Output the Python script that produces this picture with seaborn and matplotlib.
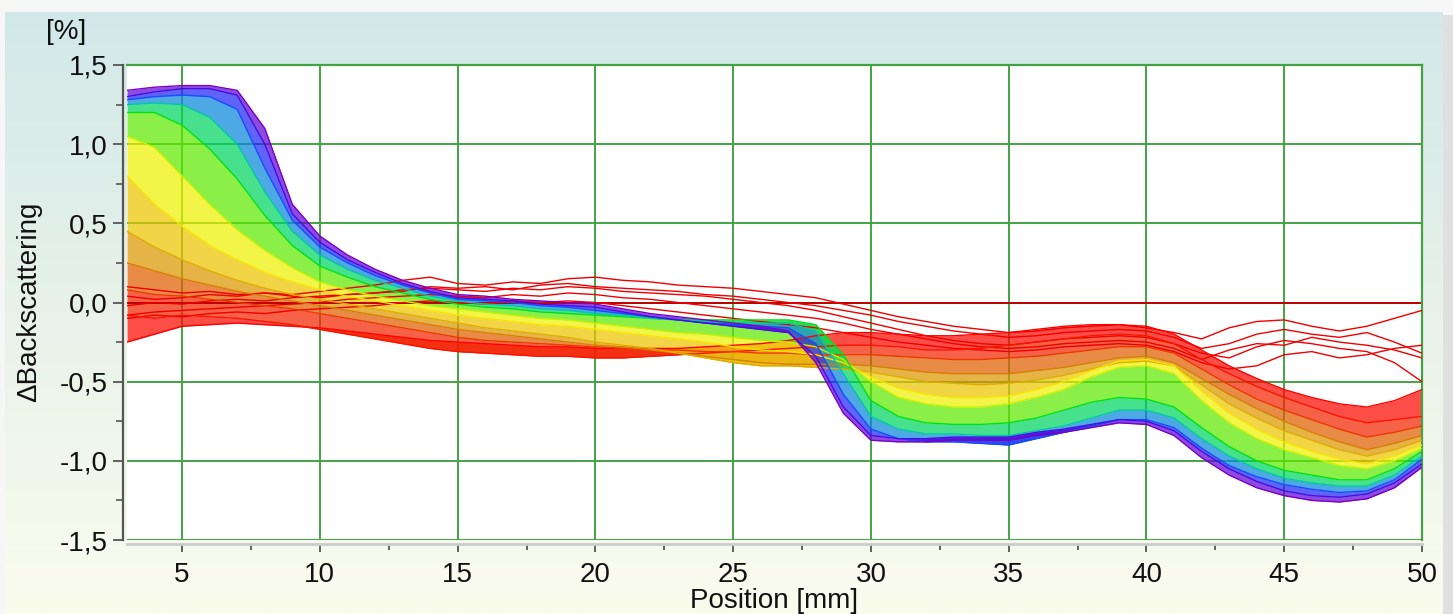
import numpy as np
import pandas as pd
import matplotlib
matplotlib.use("Agg")
import matplotlib.pyplot as plt
import seaborn as sns
from matplotlib.colors import LinearSegmentedColormap
from matplotlib.patches import Rectangle
from matplotlib.ticker import MultipleLocator, FuncFormatter

# positions along the cell [mm]
POS = list(range(3, 51))

# delta backscattering [%] per scan, in time order
ZERO = [0.0] * 48

RS1 = [0.04, 0.02, 0.03, 0.05, 0.04, 0.06, 0.05, 0.07, 0.09, 0.11, 0.14, 0.16,
       0.12, 0.11, 0.13, 0.12, 0.15, 0.16, 0.14, 0.13, 0.11, 0.10, 0.09, 0.07,
       0.05, 0.03, -0.01, -0.05, -0.09, -0.12, -0.15, -0.17, -0.19, -0.18, -0.16, -0.15,
       -0.14, -0.16, -0.19, -0.23, -0.16, -0.12, -0.11, -0.15, -0.18, -0.15, -0.10, -0.05]
RS2 = [-0.02, 0.00, -0.01, 0.01, 0.02, 0.01, 0.03, 0.04, 0.05, 0.06, 0.08, 0.09,
       0.08, 0.07, 0.09, 0.08, 0.10, 0.09, 0.07, 0.06, 0.05, 0.04, 0.02, 0.00,
       -0.02, -0.05, -0.09, -0.13, -0.17, -0.21, -0.24, -0.26, -0.27, -0.25, -0.23, -0.22,
       -0.21, -0.22, -0.26, -0.32, -0.35, -0.28, -0.24, -0.26, -0.29, -0.31, -0.38, -0.50]
RS3 = [-0.08, -0.06, -0.05, -0.04, -0.03, -0.02, -0.01, 0.00, 0.02, 0.03, 0.04, 0.05,
       0.04, 0.03, 0.05, 0.04, 0.06, 0.05, 0.03, 0.02, 0.00, -0.02, -0.04, -0.06,
       -0.08, -0.10, -0.13, -0.17, -0.20, -0.23, -0.26, -0.28, -0.29, -0.28, -0.26, -0.25,
       -0.24, -0.25, -0.29, -0.36, -0.30, -0.26, -0.27, -0.22, -0.25, -0.27, -0.30, -0.35]
RS4 = [-0.10, -0.08, -0.09, -0.07, -0.06, -0.07, -0.05, -0.04, -0.03, -0.02, 0.00, 0.01,
       0.00, -0.01, 0.01, 0.00, 0.01, 0.00, -0.02, -0.04, -0.06, -0.08, -0.10, -0.12,
       -0.14, -0.16, -0.19, -0.22, -0.25, -0.27, -0.29, -0.30, -0.31, -0.30, -0.28, -0.27,
       -0.26, -0.27, -0.31, -0.38, -0.42, -0.40, -0.33, -0.31, -0.35, -0.33, -0.29, -0.27]
RS5 = [0.10, 0.08, 0.06, 0.07, 0.05, 0.06, 0.04, 0.03, 0.05, 0.06, 0.07, 0.10,
       0.09, 0.10, 0.08, 0.11, 0.12, 0.10, 0.09, 0.08, 0.07, 0.05, 0.04, 0.02,
       0.00, -0.02, -0.05, -0.08, -0.12, -0.15, -0.18, -0.20, -0.22, -0.21, -0.19, -0.18,
       -0.17, -0.18, -0.22, -0.29, -0.26, -0.20, -0.17, -0.20, -0.22, -0.19, -0.25, -0.32]
R1 = [-0.25, -0.20, -0.15, -0.14, -0.13, -0.14, -0.15, -0.16, -0.18, -0.20, -0.22, -0.24,
      -0.25, -0.26, -0.27, -0.28, -0.28, -0.29, -0.29, -0.29, -0.29, -0.28, -0.27, -0.26,
      -0.24, -0.21, -0.19, -0.19, -0.20, -0.21, -0.21, -0.20, -0.19, -0.17, -0.15, -0.14,
      -0.14, -0.15, -0.20, -0.30, -0.40, -0.48, -0.55, -0.60, -0.64, -0.66, -0.62, -0.55]
R2 = [-0.08, -0.10, -0.08, -0.09, -0.10, -0.12, -0.14, -0.17, -0.20, -0.23, -0.26, -0.29,
      -0.31, -0.32, -0.33, -0.34, -0.34, -0.35, -0.35, -0.34, -0.33, -0.32, -0.31, -0.30,
      -0.29, -0.28, -0.27, -0.27, -0.28, -0.30, -0.30, -0.29, -0.27, -0.25, -0.23, -0.21,
      -0.20, -0.21, -0.26, -0.36, -0.45, -0.53, -0.60, -0.66, -0.72, -0.76, -0.74, -0.72]
R3 = [0.08, 0.05, 0.04, 0.02, 0.00, -0.02, -0.04, -0.07, -0.10, -0.13, -0.16, -0.19,
      -0.22, -0.24, -0.25, -0.26, -0.27, -0.28, -0.29, -0.30, -0.30, -0.31, -0.31, -0.32,
      -0.32, -0.33, -0.33, -0.33, -0.34, -0.35, -0.36, -0.36, -0.35, -0.34, -0.32, -0.30,
      -0.28, -0.28, -0.32, -0.42, -0.52, -0.61, -0.68, -0.74, -0.80, -0.85, -0.82, -0.78]
O1 = [0.25, 0.20, 0.15, 0.11, 0.07, 0.04, 0.01, -0.02, -0.05, -0.08, -0.11, -0.14,
      -0.17, -0.19, -0.21, -0.23, -0.25, -0.27, -0.28, -0.30, -0.32, -0.34, -0.36, -0.38,
      -0.39, -0.39, -0.39, -0.40, -0.42, -0.44, -0.45, -0.45, -0.45, -0.43, -0.41, -0.38,
      -0.35, -0.34, -0.38, -0.48, -0.58, -0.67, -0.75, -0.82, -0.88, -0.93, -0.89, -0.84]
O2 = [0.45, 0.35, 0.27, 0.20, 0.14, 0.09, 0.05, 0.02, -0.01, -0.04, -0.07, -0.10,
      -0.13, -0.16, -0.18, -0.20, -0.22, -0.25, -0.27, -0.29, -0.32, -0.35, -0.38, -0.40,
      -0.40, -0.41, -0.42, -0.44, -0.47, -0.50, -0.51, -0.52, -0.51, -0.49, -0.46, -0.42,
      -0.38, -0.37, -0.40, -0.52, -0.64, -0.73, -0.81, -0.87, -0.93, -0.97, -0.93, -0.87]
Y1 = [0.80, 0.62, 0.48, 0.36, 0.27, 0.19, 0.13, 0.08, 0.04, 0.01, -0.02, -0.05,
      -0.08, -0.10, -0.12, -0.14, -0.15, -0.17, -0.19, -0.21, -0.23, -0.25, -0.28, -0.30,
      -0.31, -0.33, -0.38, -0.47, -0.54, -0.58, -0.60, -0.60, -0.59, -0.55, -0.50, -0.43,
      -0.37, -0.36, -0.40, -0.56, -0.70, -0.80, -0.88, -0.94, -0.99, -1.02, -0.97, -0.90]
Y2 = [1.05, 0.98, 0.80, 0.62, 0.46, 0.33, 0.22, 0.13, 0.08, 0.04, 0.01, -0.02,
      -0.04, -0.06, -0.08, -0.10, -0.11, -0.13, -0.15, -0.17, -0.19, -0.20, -0.22, -0.24,
      -0.25, -0.28, -0.36, -0.50, -0.60, -0.64, -0.66, -0.66, -0.64, -0.60, -0.55, -0.47,
      -0.41, -0.40, -0.45, -0.62, -0.76, -0.86, -0.93, -0.98, -1.03, -1.05, -1.00, -0.92]
G1 = [1.20, 1.20, 1.12, 0.97, 0.78, 0.55, 0.36, 0.23, 0.16, 0.10, 0.06, 0.02,
      -0.01, -0.03, -0.04, -0.06, -0.07, -0.08, -0.09, -0.10, -0.11, -0.11, -0.11, -0.11,
      -0.11, -0.14, -0.33, -0.62, -0.72, -0.76, -0.77, -0.77, -0.76, -0.73, -0.68, -0.63,
      -0.60, -0.61, -0.66, -0.79, -0.91, -1.00, -1.06, -1.09, -1.12, -1.12, -1.05, -0.94]
C1 = [1.25, 1.26, 1.25, 1.17, 1.00, 0.70, 0.45, 0.30, 0.21, 0.14, 0.09, 0.04,
      0.01, -0.01, -0.02, -0.04, -0.05, -0.07, -0.08, -0.10, -0.11, -0.12, -0.13, -0.13,
      -0.13, -0.18, -0.45, -0.72, -0.80, -0.83, -0.83, -0.84, -0.84, -0.81, -0.78, -0.73,
      -0.68, -0.68, -0.73, -0.86, -0.97, -1.05, -1.11, -1.14, -1.16, -1.16, -1.09, -0.97]
B1 = [1.28, 1.30, 1.31, 1.30, 1.22, 0.85, 0.52, 0.35, 0.25, 0.17, 0.11, 0.06,
      0.02, 0.01, 0.00, -0.02, -0.03, -0.05, -0.07, -0.09, -0.11, -0.13, -0.14, -0.15,
      -0.16, -0.26, -0.58, -0.80, -0.86, -0.88, -0.88, -0.89, -0.90, -0.86, -0.82, -0.78,
      -0.74, -0.74, -0.79, -0.92, -1.03, -1.10, -1.15, -1.18, -1.20, -1.19, -1.12, -0.99]
P1 = [1.30, 1.33, 1.35, 1.35, 1.31, 1.00, 0.56, 0.38, 0.27, 0.19, 0.12, 0.07,
      0.03, 0.02, 0.01, -0.01, -0.02, -0.03, -0.06, -0.09, -0.11, -0.13, -0.15, -0.17,
      -0.19, -0.34, -0.66, -0.84, -0.86, -0.86, -0.85, -0.85, -0.85, -0.82, -0.80, -0.77,
      -0.74, -0.75, -0.81, -0.94, -1.05, -1.13, -1.19, -1.22, -1.23, -1.21, -1.14, -1.02]
P2 = [1.34, 1.36, 1.37, 1.37, 1.34, 1.10, 0.62, 0.42, 0.30, 0.21, 0.14, 0.09,
      0.05, 0.04, 0.02, 0.01, 0.00, -0.01, -0.04, -0.07, -0.09, -0.11, -0.13, -0.15,
      -0.18, -0.38, -0.70, -0.87, -0.88, -0.88, -0.87, -0.87, -0.87, -0.84, -0.82, -0.79,
      -0.76, -0.77, -0.84, -0.98, -1.09, -1.17, -1.22, -1.25, -1.26, -1.24, -1.17, -1.04]

SCANS = {"rs1": RS1, "rs2": RS2, "rs3": RS3, "rs4": RS4, "rs5": RS5,
         "r1": R1, "r2": R2, "r3": R3, "o1": O1, "o2": O2, "y1": Y1, "y2": Y2,
         "g1": G1, "c1": C1, "b1": B1, "p1": P1, "p2": P2}
BAND = ["r1", "r2", "r3", "o1", "o2", "y1", "y2", "g1", "c1", "b1", "p1", "p2"]

# style: spectrum of the instrument software (red = first scans, violet = last)
spectrum = LinearSegmentedColormap.from_list("turbiscan", [
    (0.00, "#FF0000"), (0.12, "#D87400"), (0.22, "#E0AC00"), (0.33, "#FFF000"),
    (0.42, "#B8F000"), (0.50, "#00E400"), (0.66, "#00C8A8"), (0.78, "#1058FF"),
    (0.90, "#2A14F0"), (1.00, "#7A00C8")])
band_pos = [0.0, 0.02, 0.06, 0.14, 0.22, 0.31, 0.40, 0.52, 0.66, 0.80, 0.93, 1.0]
palette = {k: spectrum(p) for k, p in zip(BAND, band_pos)}
palette.update({k: "#F00000" for k in ("rs1", "rs2", "rs3", "rs4", "rs5")})

df = pd.DataFrame([(name, x, v) for name, vals in SCANS.items() for x, v in zip(POS, vals)],
                  columns=["scan", "pos", "val"])

sns.set_theme(style="white")
plt.rcParams["font.family"] = ["Liberation Sans", "DejaVu Sans"]
FS = 20

W, H = 1453, 614
fig = plt.figure(figsize=(W / 100, H / 100), dpi=100)
fig.patch.set_facecolor("#F6F6F6")

# gradient backdrop panel
bg = fig.add_axes([0, 0, 1, 1], zorder=-10)
bg.set_xlim(0, W)
bg.set_ylim(H, 0)
bg.axis("off")
bg.add_patch(Rectangle((8, 15), W - 6, H, color="#E0E0E0", lw=0))
grad = LinearSegmentedColormap.from_list("bg", ["#D2E8E8", "#E8F2EA", "#FAFCEE"])
bg.imshow(np.linspace(0, 1, 256)[:, None], extent=(5, 1443, H, 12), cmap=grad,
          aspect="auto", zorder=2)

ax = fig.add_axes([127 / W, 1 - 540 / H, (1422 - 127) / W, (540 - 65) / H])
ax.set_facecolor("white")

# fill the space between consecutive scans to mimic the dense bundle of curves
for a, b, pa, pb in zip(BAND[:-1], BAND[1:], band_pos[:-1], band_pos[1:]):
    ax.fill_between(POS, SCANS[a], SCANS[b], color=spectrum((pa + pb) / 2),
                    alpha=0.72, lw=0, zorder=2)

# reference scan (delta = 0)
sns.lineplot(x=POS, y=ZERO, color="#C00000", lw=1.4, ax=ax, zorder=2.5)
sns.lineplot(data=df, x="pos", y="val", hue="scan", palette=palette,
             hue_order=list(SCANS.keys()), estimator=None, sort=False,
             lw=1.0, legend=False, ax=ax, zorder=3)

ax.set_xlim(3, 50)
ax.set_ylim(-1.5, 1.5)
ax.xaxis.set_major_locator(MultipleLocator(5))
ax.xaxis.set_minor_locator(MultipleLocator(2.5))
ax.yaxis.set_major_locator(MultipleLocator(0.5))
ax.yaxis.set_minor_locator(MultipleLocator(0.25))
ax.yaxis.set_major_formatter(FuncFormatter(lambda v, _: f"{v:.1f}".replace(".", ",")))
ax.grid(True, which="major", color="#43A343", lw=1.4, zorder=1)
ax.set_axisbelow(True)
fig.canvas.draw()
for tick in ax.yaxis.get_major_ticks():
    if abs(tick.get_loc()) < 1e-9:
        tick.gridline.set_visible(False)
    elif abs(tick.get_loc() - 1.0) < 1e-9:
        tick.gridline.set_color("#C9E3C9")

for s in ("top", "right"):
    ax.spines[s].set_color("#43A343")
    ax.spines[s].set_linewidth(1.6)
ax.spines["left"].set_position(("outward", 3))
ax.spines["left"].set_color("#555555")
ax.spines["left"].set_linewidth(1.6)
ax.spines["bottom"].set_position(("outward", 3))
ax.spines["bottom"].set_color("#CCCCCC")
ax.spines["bottom"].set_linewidth(2.0)

ax.tick_params(axis="both", which="both", bottom=True, left=True, direction="out",
               color="#555555", labelcolor="#111111", labelsize=FS)
ax.tick_params(axis="x", which="major", length=6, width=1.3, pad=7)
ax.tick_params(axis="x", which="minor", length=4, width=1.3)
ax.tick_params(axis="y", which="major", length=7, width=1.3, pad=4)
ax.tick_params(axis="y", which="minor", length=5, width=1.2)
ax.set_xlabel("")
ax.set_ylabel("")

fig.text(66 / W, 1 - 32 / H, "[%]", ha="center", va="center", fontsize=FS, color="#111111")
fig.text(29 / W, 1 - 302 / H, "ΔBackscattering", rotation=90, ha="center", va="center",
         fontsize=FS, color="#111111")
fig.text(774 / W, 1 - 601 / H, "Position [mm]", ha="center", va="center",
         fontsize=FS, color="#111111")

fig.savefig("out.png", dpi=100, facecolor=fig.get_facecolor())
